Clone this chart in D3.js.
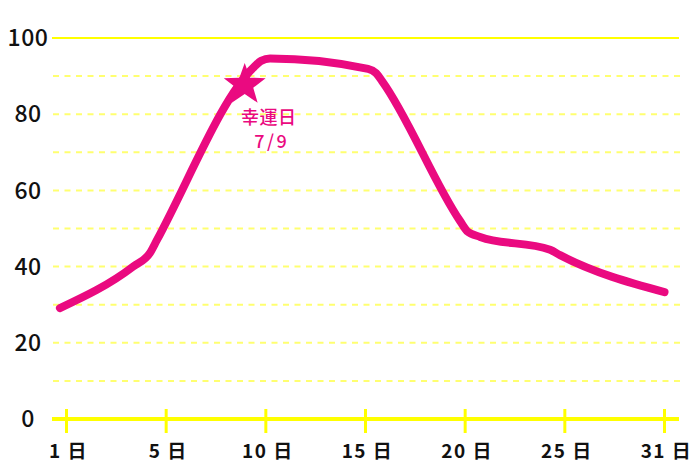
<!DOCTYPE html>
<html><head><meta charset="utf-8">
<script src="https://cdn.jsdelivr.net/npm/d3@7"></script>
<style>body{margin:0;background:#fff}svg{display:block}</style>
</head><body>
<svg id="c" width="700" height="467"></svg>
<script>
// data: day index (0 = 1日, 30 = 31日) and value
const days   = [-0.33, 3.34, 4.19, 4.54, 9.41, 9.76, 10.21, 15.13, 15.53, 15.83, 19.74, 20.1, 20.75, 24.26, 24.76, 30.0];
const values = [29.1, 40.0, 43.6, 47.0, 92.4, 94.0, 94.6, 91.9, 90.8, 88.7, 52.0, 49.3, 47.8, 44.4, 43.0, 33.3];
const xTicks = [0, 5, 10, 15, 20, 25, 30];
const xTickLabels = ["1 日", "5 日", "10 日", "15 日", "20 日", "25 日", "31 日"];
const yTicks = [0, 20, 40, 60, 80, 100];
const gridValues = [10, 20, 30, 40, 50, 60, 70, 80, 90];
const luckyDay = [8.94, 88.2];
const luckyLabel = ["幸運日", "7/9"];

const pink = "#ea0a80";
const svg = d3.select("#c");
const x = d3.scaleLinear().domain([0, 30]).range([66.5, 664.5]);
const y = d3.scaleLinear().domain([0, 100]).range([419, 38]);

// dashed grid
svg.append("g").selectAll("line").data(gridValues).join("line")
  .attr("x1", 53).attr("x2", 682)
  .attr("y1", d => y(d)).attr("y2", d => y(d))
  .attr("stroke", "#ffff70").attr("stroke-width", 2)
  .attr("stroke-dasharray", "6,5.5");
// top solid line
svg.append("line").attr("x1", 52).attr("x2", 679)
  .attr("y1", y(100)).attr("y2", y(100))
  .attr("stroke", "#ffff00").attr("stroke-width", 2);

// x axis
const xa = svg.append("g").attr("transform", `translate(0,${y(0)})`);
xa.append("line").attr("x1", 52).attr("x2", 679).attr("stroke", "#ffff00").attr("stroke-width", 4);
xa.selectAll("line.t").data(xTicks).join("line").attr("class", "t")
  .attr("x1", d => x(d)).attr("x2", d => x(d)).attr("y1", -10).attr("y2", 14)
  .attr("stroke", "#ffff00").attr("stroke-width", 3);
xa.selectAll("text").data(xTicks).join("text")
  .attr("x", d => x(d) + 2).attr("y", 39)
  .attr("text-anchor", "middle")
  .attr("font-family", "'Noto Sans CJK JP', 'Noto Sans', sans-serif")
  .attr("font-size", 19).attr("font-weight", 700).attr("letter-spacing", 1.5)
  .attr("fill", "#111")
  .text((d, i) => xTickLabels[i]);

// y labels
svg.append("g").selectAll("text").data(yTicks).join("text")
  .attr("x", 28).attr("y", d => y(d)).attr("dy", "0.36em")
  .attr("text-anchor", "middle")
  .attr("font-family", "'Noto Sans CJK JP', 'Noto Sans', sans-serif")
  .attr("font-size", 23).attr("font-weight", 500).attr("letter-spacing", 0.5)
  .attr("fill", "#111")
  .text(d => d);

// line
const pts = days.map((d, i) => [d, values[i]]);
svg.append("path").datum(pts)
  .attr("d", d3.line().x(d => x(d[0])).y(d => y(d[1])).curve(d3.curveMonotoneX))
  .attr("fill", "none").attr("stroke", pink).attr("stroke-width", 8)
  .attr("stroke-linecap", "round").attr("stroke-linejoin", "round");

// star
const sx = x(luckyDay[0]), sy = y(luckyDay[1]);
const R = 22, r = 9;
const starPts = d3.range(10).map(i => {
  const a = -Math.PI / 2 + i * Math.PI / 5;
  const rr = i % 2 === 0 ? R : r;
  return [sx + rr * Math.cos(a), sy + 2 + rr * Math.sin(a)];
});
svg.append("polygon").attr("points", starPts.map(p => p.join(",")).join(" "))
  .attr("fill", pink);

svg.append("g").selectAll("text").data(luckyLabel).join("text")
  .attr("x", (d, i) => sx + 24 + i * 3).attr("y", (d, i) => sy + 41 + i * 24)
  .attr("text-anchor", "middle")
  .attr("font-family", "'Noto Sans CJK JP', 'Noto Sans', sans-serif")
  .attr("font-size", 18).attr("font-weight", 500)
  .attr("letter-spacing", (d, i) => i === 0 ? 0.5 : 2.5)
  .attr("fill", pink)
  .text(d => d);
</script>
</body></html>
